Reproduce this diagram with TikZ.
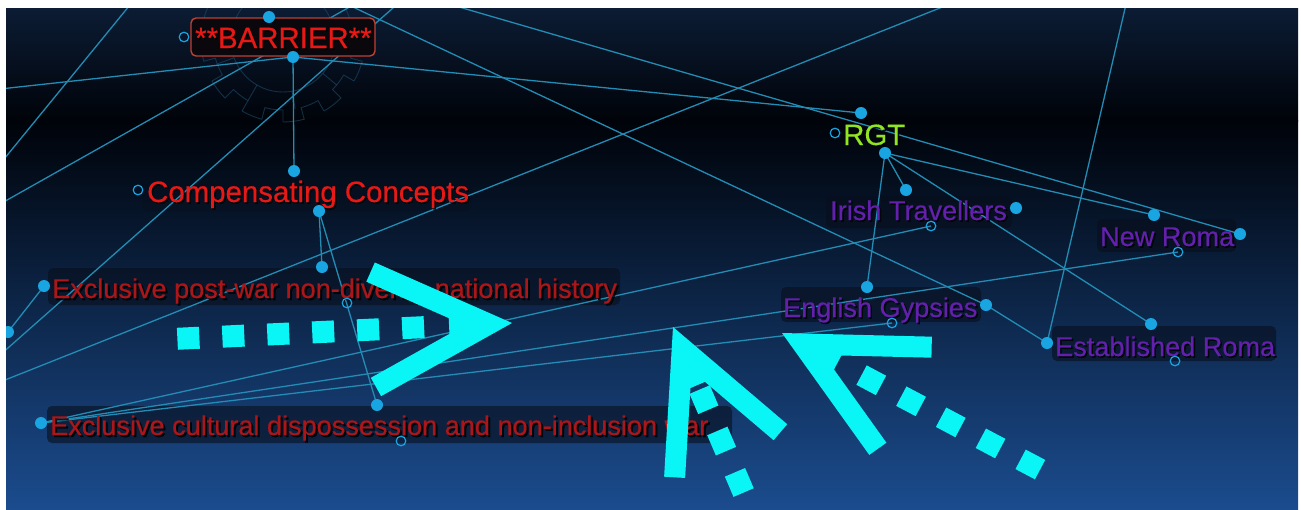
\documentclass[tikz,border=0pt]{standalone}
\usepackage{fontspec}
\setmainfont{Liberation Sans}
\newfontfamily\lblfont{Liberation Sans}[FakeBold=0.5]
\definecolor{linec}{RGB}{35,140,180}
\definecolor{dotc}{RGB}{25,165,225}
\definecolor{cyanA}{RGB}{10,245,245}
\definecolor{redB}{RGB}{230,25,22}
\definecolor{redD}{RGB}{170,22,25}
\definecolor{greenR}{RGB}{145,228,35}
\definecolor{purp}{RGB}{98,32,172}
\definecolor{bgtop}{RGB}{12,28,52}
\definecolor{bgblack}{RGB}{0,3,9}
\definecolor{bgbot}{RGB}{27,76,142}
\definecolor{gearc}{RGB}{30,75,105}
\definecolor{boxc}{RGB}{8,14,28}
\definecolor{barborder}{RGB}{190,65,50}
\begin{document}
\begin{tikzpicture}[x=1pt,y=-1pt,
  conn/.style={draw=linec, line width=1.3pt},
  fdot/.style={fill=dotc},
  odot/.style={draw=dotc, line width=1.2pt},
  lbox/.style={fill=boxc, fill opacity=0.6, rounded corners=5pt},
  lab/.style={anchor=base west, inner sep=0pt},
  shadowlab/.style={lab, text=black, text opacity=0.8},
  fbig/.style={font=\lblfont\fontsize{29.4}{32}\selectfont},
  fmid/.style={font=\lblfont\fontsize{27.1}{30}\selectfont},
  cy/.style={fill=cyanA},
  gear/.style={draw=gearc, line width=0.9pt, draw opacity=0.6}]
\useasboundingbox (0,0) rectangle (1301,509);
\fill[white] (0,0) rectangle (1301,509);
\begin{scope}
\clip (6,8) rectangle (1298,509);
% background
\shade[top color=bgtop, bottom color=bgblack] (6,8) rectangle (1298,121);
\shade[top color=bgblack, bottom color=bgbot] (6,120) rectangle (1298,510);
% faint gear behind BARRIER
\begin{scope}[shift={(283,40)}]
\foreach \a in {0,30,...,330}{
  \draw[gear] (\a:82pt) arc[start angle=\a, end angle=\a+15, radius=82pt] -- (\a+15:70pt) arc[start angle=\a+15, end angle=\a+30, radius=70pt] -- (\a+30:82pt);
}
\draw[gear] (0,0) circle[radius=52pt];
\foreach \a in {200,240,280,320}{
  \draw[gear] (\a:52pt) -- (\a:70pt);
}
\end{scope}
% label boxes
\fill[lbox, fill opacity=0.35] (142,178) rectangle (472,211);
\fill[lbox] (48,268) rectangle (620,305);
\fill[lbox] (47,406) rectangle (732,443);
\fill[lbox] (826,196) rectangle (1012,228);
\fill[lbox] (1097,219) rectangle (1236,252);
\fill[lbox] (781,287) rectangle (981,322);
\fill[lbox] (1052,326) rectangle (1276,361);
% dot coordinates
\coordinate (b-top) at (269,17);
\coordinate (b-bot) at (293,57);
\coordinate (b-left) at (184,37);
\coordinate (c-top) at (294,171);
\coordinate (c-bot) at (319,211);
\coordinate (c-left) at (138,190);
\coordinate (p-left) at (44,286);
\coordinate (p-top) at (322,267);
\coordinate (p-bot) at (347,303);
\coordinate (u-left) at (41,423);
\coordinate (u-top) at (377,405);
\coordinate (u-bot) at (401,441);
\coordinate (r-top) at (861,113);
\coordinate (r-bot) at (885,153);
\coordinate (r-left) at (835,133);
\coordinate (i-top) at (906,190);
\coordinate (i-right) at (1016,208);
\coordinate (i-bot) at (931,226);
\coordinate (n-top) at (1154,215);
\coordinate (n-right) at (1240,234);
\coordinate (n-bot) at (1178,252);
\coordinate (e-top) at (867,287);
\coordinate (e-right) at (986,305);
\coordinate (e-bot) at (892,323);
\coordinate (s-left) at (1047,343);
\coordinate (s-top) at (1151,324);
\coordinate (s-bot) at (1175,361);
\coordinate (edge) at (8,332);
% off-frame ends
\coordinate (o1) at (435,0);
\coordinate (o2) at (338,0);
\coordinate (o3) at (1127,0);
\coordinate (o4) at (0,89);
\coordinate (o5a) at (0,382);
\coordinate (o5b) at (960,0);
\coordinate (o6a) at (0,355);
\coordinate (o6b) at (402,0);
\coordinate (o7a) at (134,0);
\coordinate (o7b) at (0,164);
\coordinate (o8a) at (0,204);
\coordinate (o8b) at (362,0);
% connectors
\draw[conn] (b-bot) -- (c-top);
\draw[conn] (c-bot) -- (p-top);
\draw[conn] (c-bot) -- (u-top);
\draw[conn] (r-bot) -- (i-top);
\draw[conn] (r-bot) -- (e-top);
\draw[conn] (r-bot) -- (n-top);
\draw[conn] (r-bot) -- (s-top);
\draw[conn] (o1) -- (n-right);
\draw[conn] (o2) -- (e-right);
\draw[conn] (e-right) -- (s-left);
\draw[conn] (o3) -- (s-left);
\draw[conn] (b-bot) -- (r-top);
\draw[conn] (o4) -- (b-bot);
\draw[conn] (o5a) -- (o5b);
\draw[conn] (u-left) -- (i-bot);
\draw[conn] (u-left) -- (n-bot);
\draw[conn] (u-left) -- (e-bot);
\draw[conn] (edge) -- (p-left);
\draw[conn] (o6a) -- (o6b);
\draw[conn] (o7a) -- (o7b);
\draw[conn] (o8a) -- (o8b);
% BARRIER box (opaque, over lines)
\draw[barborder, line width=1.4pt, fill={rgb,255:red,10;green,8;blue,12}, rounded corners=5pt] (191,18) rectangle (375,56);
% labels
\node[shadowlab, fbig] (barrier-sh) at (196.5,49.5) {**BARRIER**};
\node[lab, fbig, text=redB] (barrier) at (195,48) {**BARRIER**};
\node[shadowlab, fbig] (comp-sh) at (148.5,203.5) {Compensating Concepts};
\node[lab, fbig, text=redB] (comp) at (147,202) {Compensating Concepts};
\node[shadowlab, fmid] (postwar-sh) at (54,300) {Exclusive post-war non-diverse national history};
\node[lab, fmid, text=redD] (postwar) at (52,298) {Exclusive post-war non-diverse national history};
\node[shadowlab, fmid] (cultural-sh) at (52,437) {Exclusive cultural dispossession and non-inclusion war};
\node[lab, fmid, text=redD] (cultural) at (50,435) {Exclusive cultural dispossession and non-inclusion war};
\node[shadowlab, fbig] (rgt-sh) at (844.5,146.5) {RGT};
\node[lab, fbig, text=greenR] (rgt) at (843,145) {RGT};
\node[shadowlab, fmid] (irish-sh) at (831.5,221.5) {Irish Travellers};
\node[lab, fmid, text=purp] (irish) at (830,220) {Irish Travellers};
\node[shadowlab, fmid] (newroma-sh) at (1101.5,247.5) {New Roma};
\node[lab, fmid, text=purp] (newroma) at (1100,246) {New Roma};
\node[shadowlab, fmid] (english-sh) at (784.5,318.5) {English Gypsies};
\node[lab, fmid, text=purp] (english) at (783,317) {English Gypsies};
\node[shadowlab, fmid] (established-sh) at (1056.5,357.5) {Established Roma};
\node[lab, fmid, text=purp] (established) at (1055,356) {Established Roma};
% filled dots
\foreach \p in {b-top,b-bot,c-top,c-bot,p-left,p-top,u-left,u-top,r-top,r-bot,i-top,i-right,n-top,n-right,e-top,e-right,s-left,s-top,edge}{
  \fill[fdot] (\p) circle[radius=6pt];
}
% open dots
\foreach \p in {b-left,c-left,p-bot,u-bot,r-left,i-bot,n-bot,e-bot,s-bot}{
  \draw[odot] (\p) circle[radius=4.8pt];
}
% big cyan arrows
\begin{scope}[shift={(512,323)}, rotate=2.7]
  \fill[cy] (0,0) -- (-134.2,-66.9) -- (-143.6,-48.1) -- (-63,-7.9) -- (-63,7.9) -- (-143.6,48.1) -- (-134.2,66.9) -- cycle;
  \foreach \d in {99,144,189,234,279,324}{
    \fill[cy] (-\d-11,-11) -- (-\d+11,-11) -- (-\d+11,11) -- (-\d-11,11) -- cycle;
  }
\end{scope}
\begin{scope}[shift={(673,327)}, rotate=113.1]
  \fill[cy] (0,0) -- (-134.2,-66.9) -- (-143.6,-48.1) -- (-63,-7.9) -- (-63,7.9) -- (-143.6,48.1) -- (-134.2,66.9) -- cycle;
  \foreach \d in {79,124,169}{
    \fill[cy] (-\d-11,-11) -- (-\d+11,-11) -- (-\d+11,11) -- (-\d-11,11) -- cycle;
  }
\end{scope}
\begin{scope}[shift={(782,333)}, rotate=152.1]
  \fill[cy] (0,0) -- (-134.2,-66.9) -- (-143.6,-48.1) -- (-63,-7.9) -- (-63,7.9) -- (-143.6,48.1) -- (-134.2,66.9) -- cycle;
  \foreach \d in {101,146,191,236,281}{
    \fill[cy] (-\d-11,-11) -- (-\d+11,-11) -- (-\d+11,11) -- (-\d-11,11) -- cycle;
  }
\end{scope}
\end{scope}
\end{tikzpicture}
\end{document}
